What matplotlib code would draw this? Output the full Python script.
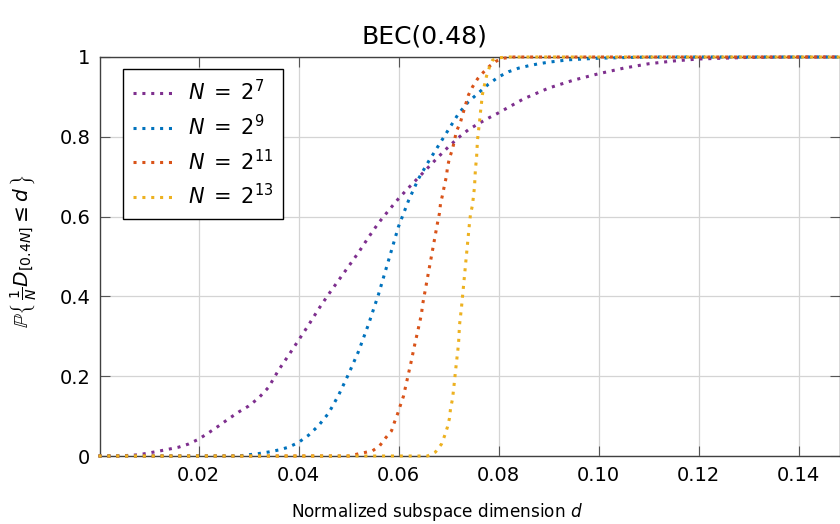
import numpy as np
import matplotlib
matplotlib.use("Agg")
import matplotlib.pyplot as plt

plt.rcParams['font.family'] = ['DejaVu Sans']
plt.rcParams['mathtext.fontset'] = 'dejavusans'

# empirical CDF of the normalized subspace dimension, one curve per block length
d7 = [0.000, 0.004, 0.008, 0.012, 0.016, 0.018, 0.020, 0.022, 0.024, 0.026, 0.028,
      0.030, 0.032, 0.034, 0.036, 0.038, 0.040, 0.042, 0.044, 0.046, 0.048, 0.050,
      0.052, 0.054, 0.056, 0.058, 0.060, 0.062, 0.064, 0.066, 0.068, 0.070, 0.072,
      0.074, 0.076, 0.078, 0.080, 0.085, 0.090, 0.095, 0.100, 0.105, 0.110, 0.115,
      0.120, 0.130, 0.140, 0.150]
p7 = [0.0, 0.0, 0.003, 0.012, 0.022, 0.030, 0.042, 0.058, 0.075, 0.093, 0.110,
      0.125, 0.145, 0.172, 0.215, 0.252, 0.290, 0.328, 0.368, 0.405, 0.440, 0.475,
      0.510, 0.548, 0.584, 0.615, 0.645, 0.672, 0.698, 0.724, 0.750, 0.775, 0.798,
      0.818, 0.833, 0.847, 0.860, 0.895, 0.922, 0.942, 0.958, 0.972, 0.983, 0.990,
      0.995, 0.999, 1.0, 1.0]

d9 = [0.000, 0.028, 0.030, 0.032, 0.034, 0.036, 0.038, 0.040, 0.042, 0.044, 0.046,
      0.048, 0.050, 0.052, 0.054, 0.056, 0.058, 0.060, 0.062, 0.064, 0.066, 0.068,
      0.070, 0.072, 0.074, 0.076, 0.078, 0.080, 0.082, 0.084, 0.086, 0.088, 0.090,
      0.094, 0.100, 0.110, 0.150]
p9 = [0.0, 0.0, 0.003, 0.006, 0.010, 0.015, 0.022, 0.034, 0.052, 0.076, 0.107,
      0.152, 0.205, 0.262, 0.330, 0.405, 0.490, 0.575, 0.640, 0.695, 0.738, 0.778,
      0.818, 0.858, 0.888, 0.910, 0.932, 0.950, 0.963, 0.972, 0.978, 0.983, 0.987,
      0.993, 0.997, 1.0, 1.0]

d11 = [0.000, 0.050, 0.0548, 0.0562, 0.0574, 0.0586, 0.0592, 0.0598, 0.0604, 0.0610,
       0.0614, 0.0618, 0.0622, 0.0626, 0.0630, 0.0634, 0.0638, 0.0642, 0.0646, 0.0648,
       0.0678, 0.0682, 0.0684, 0.0688, 0.0692, 0.0696, 0.0698, 0.0702, 0.0708, 0.0712,
       0.0716, 0.0724, 0.0734, 0.0740, 0.0748, 0.0758, 0.0770, 0.0782, 0.0796, 0.0810,
       0.0830, 0.150]
p11 = [0.0, 0.0, 0.013, 0.025, 0.045, 0.063, 0.085, 0.105, 0.128, 0.150,
       0.173, 0.195, 0.218, 0.240, 0.265, 0.288, 0.310, 0.333, 0.356, 0.378,
       0.584, 0.609, 0.632, 0.654, 0.679, 0.702, 0.724, 0.747, 0.769, 0.792,
       0.814, 0.837, 0.880, 0.905, 0.925, 0.945, 0.962, 0.977, 0.990, 0.997,
       1.0, 1.0]

d13 = [0.000, 0.0658, 0.0674, 0.0686, 0.0692, 0.0698, 0.0702, 0.0704, 0.0708, 0.0710,
       0.0712, 0.0714, 0.0716, 0.0718, 0.0720, 0.0721, 0.0722, 0.0724, 0.0726, 0.0742,
       0.0744, 0.0748, 0.0750, 0.0752, 0.0753, 0.0754, 0.0756, 0.0757, 0.0758, 0.0760,
       0.0762, 0.0764, 0.0766, 0.0768, 0.0772, 0.0776, 0.0782, 0.0788, 0.0800, 0.0820,
       0.150]
p13 = [0.0, 0.0, 0.010, 0.030, 0.050, 0.073, 0.095, 0.118, 0.143, 0.165,
       0.188, 0.213, 0.235, 0.258, 0.280, 0.303, 0.328, 0.350, 0.373, 0.584,
       0.606, 0.629, 0.652, 0.674, 0.699, 0.722, 0.744, 0.769, 0.792, 0.815,
       0.837, 0.862, 0.885, 0.907, 0.930, 0.952, 0.975, 0.992, 0.998, 1.0,
       1.0]

labels = [r'$N\;=\;2^{7}$', r'$N\;=\;2^{9}$', r'$N\;=\;2^{11}$', r'$N\;=\;2^{13}$']
colors = ['#7E2F8E', '#0072BD', '#D95319', '#EDB120']
xticks = [0.02, 0.04, 0.06, 0.08, 0.10, 0.12, 0.14]
yticks = [0, 0.2, 0.4, 0.6, 0.8, 1]

fig = plt.figure(figsize=(8.4, 5.24), dpi=100)
ax = fig.add_axes([100 / 840, 1 - 456 / 524, 740 / 840, 399 / 524])

for d, p, lab, c in zip([d7, d9, d11, d13], [p7, p9, p11, p13], labels, colors):
    ax.plot(d, p, color=c, lw=2.2, linestyle=(0, (1, 1.9)), label=lab,
            clip_on=False, zorder=3)

ax.set_xlim(0.0003, 0.1483)
ax.set_ylim(0, 1)
ax.set_xticks(xticks)
ax.set_xticklabels(['%.2f' % t for t in xticks])
ax.set_yticks(yticks)
ax.set_yticklabels(['0', '0.2', '0.4', '0.6', '0.8', '1'])
ax.tick_params(direction='in', length=7, width=0.8, color='#555555',
               labelsize=14, pad=7, top=True, right=True)
ax.grid(True, color='#d4d4d4', lw=0.9)
ax.set_axisbelow(True)
for s in ax.spines.values():
    s.set_color('#404040')
    s.set_linewidth(1.0)

ax.set_xlabel('Normalized subspace dimension $d$', fontsize=12.2)
ax.xaxis.set_label_coords(0.455, -0.114)
ax.set_ylabel(r'$\mathbb{P}\left\{\,\frac{1}{N}D_{[0.4N]}\leq d\,\right\}$', fontsize=14.5)
ax.yaxis.set_label_coords(-0.083, 0.513)
ax.set_title('BEC(0.48)', fontsize=18, x=0.439, pad=10)

leg = ax.legend(loc='upper left', bbox_to_anchor=(0.031, 0.97), fontsize=15,
                frameon=True, fancybox=False, framealpha=1, edgecolor='black',
                handlelength=2.0, handletextpad=0.6, labelspacing=0.45,
                borderpad=0.5, borderaxespad=0)
leg.get_frame().set_linewidth(1.0)

plt.savefig('out.png', dpi=100)
